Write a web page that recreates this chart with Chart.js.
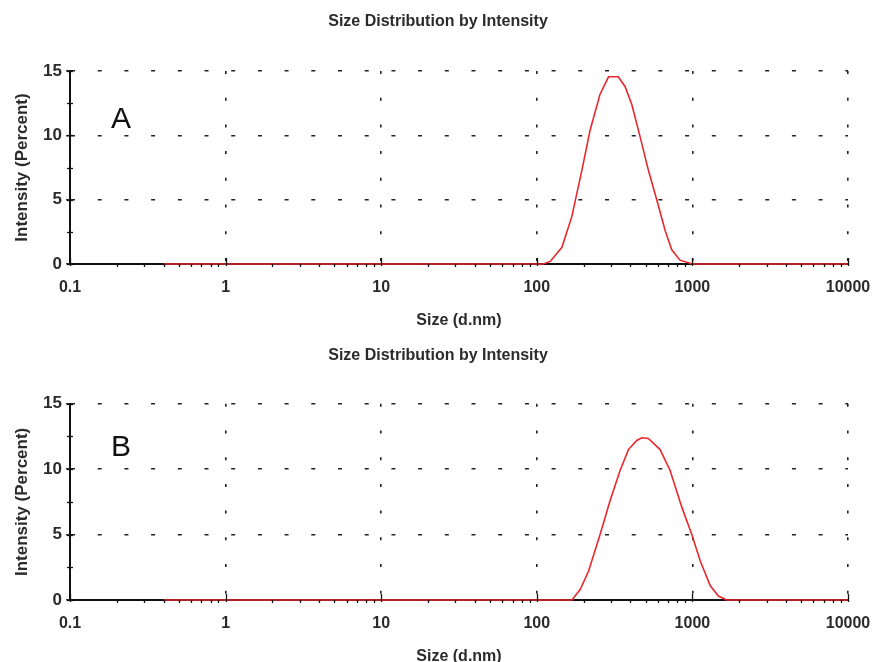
<!DOCTYPE html>
<html>
<head>
<meta charset="utf-8">
<script src="https://cdn.jsdelivr.net/npm/chart.js@4.4.1/dist/chart.umd.min.js"></script>
<style>
  html, body { margin: 0; padding: 0; background: #fff; overflow: hidden; }
  #wrap { position: relative; width: 876px; height: 662px; overflow: hidden; background: #fff; }
  canvas { position: absolute; left: 0; }
</style>
</head>
<body>
<div id="wrap">
  <canvas id="cA" width="876" height="331" style="top:0"></canvas>
  <canvas id="cB" width="876" height="335" style="top:331px"></canvas>
</div>
<script>
// ---- Data ----
const chartTitle = 'Size Distribution by Intensity';
const xAxisTitle = 'Size (d.nm)';
const yAxisTitle = 'Intensity (Percent)';
const panelLabels = ['A', 'B'];

const xTickValues = [0.1, 1, 10, 100, 1000, 10000];
const xTickLabels = ['0.1', '1', '10', '100', '1000', '10000'];
const yTickValues = [0, 5, 10, 15];

// Panel A: size (d.nm) and intensity (%)
const sizesA = [0.4, 110, 122, 145, 168, 195, 220, 255, 289, 334, 369, 408, 461, 521, 590, 668, 737, 832, 966, 1000, 10000];
const intensityA = [0, 0, 0.2, 1.3, 3.7, 7.3, 10.4, 13.2, 14.55, 14.55, 13.8, 12.4, 9.9, 7.3, 5.0, 2.6, 1.1, 0.3, 0.05, 0, 0];

// Panel B: size (d.nm) and intensity (%)
const sizesB = [0.4, 168, 190, 215, 255, 296, 343, 388, 439, 473, 521, 620, 719, 855, 991, 1122, 1300, 1470, 1660, 10000];
const intensityB = [0, 0, 0.8, 2.2, 5.0, 7.6, 9.9, 11.5, 12.2, 12.4, 12.35, 11.5, 9.9, 7.1, 5.0, 3.0, 1.1, 0.3, 0, 0];

// ---- Styling ----
const FONT = '"Liberation Sans", Arial, sans-serif';
const TEXT = '#2b2b2b';

const extrasPlugin = {
  id: 'extras',
  afterDatasetsDraw(chart, args, opts) {
    const ctx = chart.ctx;
    const x = chart.scales.x, y = chart.scales.y;
    const area = chart.chartArea;
    ctx.save();
    ctx.strokeStyle = '#111';
    ctx.lineWidth = 1.3;
    // minor x ticks (2..9 within each decade), drawn with the scale
    for (let i = 0; i < xTickValues.length - 1; i++) {
      const d = xTickValues[i];
      for (let k = 2; k <= 9; k++) {
        const px = Math.round(x.getPixelForValue(d * k)) + 0.5;
        ctx.beginPath();
        ctx.moveTo(px, area.bottom);
        ctx.lineTo(px, area.bottom + 3);
        ctx.stroke();
      }
    }
    // major x ticks
    xTickValues.forEach(v => {
      const px = Math.round(x.getPixelForValue(v)) + 0.5;
      ctx.beginPath();
      ctx.moveTo(px, area.bottom - 6);
      ctx.lineTo(px, area.bottom + 2);
      ctx.stroke();
    });
    // y ticks at half steps
    for (let v = 0; v <= 15; v += 2.5) {
      const py = Math.round(y.getPixelForValue(v)) + 0.5;
      ctx.beginPath();
      ctx.moveTo(area.left - 3, py);
      ctx.lineTo(area.left + 3, py);
      ctx.stroke();
    }
    // panel letter
    ctx.fillStyle = '#111';
    ctx.font = '30px ' + FONT;
    ctx.textAlign = 'center';
    ctx.textBaseline = 'middle';
    ctx.fillText(opts.letter, opts.lx, opts.ly);
    ctx.restore();
  }
};

function makeChart(id, sizes, values, letter, cfg) {
  const data = sizes.map((s, i) => ({ x: s, y: values[i] }));
  return new Chart(document.getElementById(id), {
    type: 'line',
    data: {
      datasets: [{
        data: data,
        borderColor: '#e8282c',
        borderWidth: 1.6,
        pointRadius: 0,
        tension: 0,
        fill: false,
        clip: false
      }]
    },
    options: {
      responsive: false,
      animation: false,
      devicePixelRatio: 1,
      layout: { padding: 0 },
      plugins: {
        legend: { display: false },
        tooltip: { enabled: false },
        title: {
          display: true,
          text: chartTitle,
          color: TEXT,
          font: { family: FONT, size: 16, weight: 'bold' },
          padding: { top: cfg.titleTop, bottom: cfg.titleBottom }
        },
        extras: { letter: letter, lx: cfg.lx, ly: cfg.ly }
      },
      scales: {
        x: {
          type: 'logarithmic',
          min: 0.1,
          max: 10000,
          afterBuildTicks: (s) => { s.ticks = xTickValues.map(v => ({ value: v })); },
          afterFit: (s) => { s.height = cfg.xHeight; s.paddingRight = 28; },
          ticks: {
            autoSkip: false,
            maxRotation: 0,
            padding: 14,
            color: TEXT,
            font: { family: FONT, size: 16, weight: 'bold' },
            callback: (v, i) => xTickLabels[i]
          },
          grid: { color: '#222', lineWidth: 1.6, drawTicks: false },
          border: { display: true, color: '#111', width: 2, dash: [3, 23.7] },
          title: {
            display: true,
            text: xAxisTitle,
            color: TEXT,
            font: { family: FONT, size: 16, weight: 'bold' },
            padding: { top: 0, bottom: cfg.xTitlePad }
          }
        },
        y: {
          type: 'linear',
          min: 0,
          max: 15,
          afterBuildTicks: (s) => { s.ticks = yTickValues.map(v => ({ value: v })); },
          afterFit: (s) => { s.width = 70; },
          ticks: {
            padding: 4,
            color: TEXT,
            font: { family: FONT, size: 17, weight: 'bold' }
          },
          grid: { color: '#222', lineWidth: 1.6, drawTicks: true, tickLength: 4, tickColor: '#111', tickWidth: 1.3 },
          border: { display: true, color: '#111', width: 2, dash: [4, 22.7] },
          title: {
            display: true,
            text: yAxisTitle,
            color: TEXT,
            font: { family: FONT, size: 17, weight: 'bold' },
            padding: { top: 12, bottom: 0 }
          }
        }
      }
    },
    plugins: [extrasPlugin]
  });
}

makeChart('cA', sizesA, intensityA, panelLabels[0],
  { titleTop: 12, titleBottom: 39.8, xHeight: 67, xTitlePad: 1, lx: 121, ly: 120 });
makeChart('cB', sizesB, intensityB, panelLabels[1],
  { titleTop: 15, titleBottom: 38.6, xHeight: 66, xTitlePad: 0, lx: 121, ly: 117 });
</script>
</body>
</html>
